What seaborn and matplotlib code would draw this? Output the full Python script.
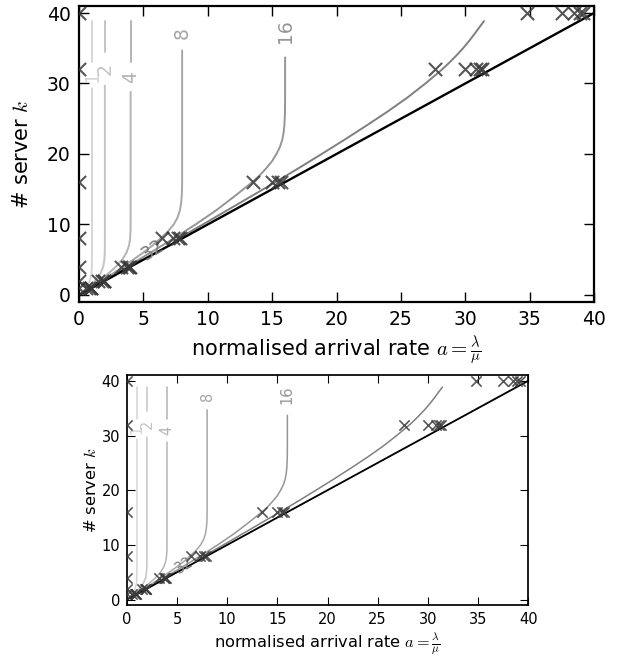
import numpy as np
import matplotlib
matplotlib.use("Agg")
import matplotlib.pyplot as plt
import seaborn as sns

# contour levels and the grey of each curve
levels = [1, 2, 4, 8, 16, 32]
greys = ['#d6d6d6', '#c4c4c4', '#b4b4b4', '#a6a6a6', '#959595', '#7f7f7f']

# curve points: normalised arrival rate a, servers k
a_1 = [1.0, 1.0, 1.0, 0.998, 0.99, 0.96, 0.83, 0.5]
k_1 = [38.85, 8, 6, 5, 4, 3, 2, 1]
a_2 = [2.0, 2.0, 1.998, 1.99, 1.96, 1.87, 1.65, 1.24, 0.67]
k_2 = [38.85, 9, 7, 6, 5, 4, 3, 2, 1]
a_4 = [4.0, 4.0, 3.998, 3.99, 3.96, 3.88, 3.68, 3.35, 2.86, 2.25, 1.56, 0.8]
k_4 = [38.85, 12, 10, 9, 8, 7, 6, 5, 4, 3, 2, 1]
a_8 = [8.0, 8.0, 7.99, 7.97, 7.92, 7.83, 7.65, 7.35, 6.9, 6.3, 5.7, 4.98, 4.22, 3.43, 2.6, 1.77, 0.89]
k_8 = [34.7, 16, 15, 14, 13, 12, 11, 10, 9, 8, 7, 6, 5, 4, 3, 2, 1]
a_16 = [16.0, 16.0, 15.99, 15.97, 15.94, 15.88, 15.78, 15.6, 15.33, 15.0, 14.55, 14.05,
        13.45, 12.08, 10.65, 9.05, 7.35, 5.55, 3.72, 1.88, 0.94]
k_16 = [33.7, 28, 26, 25, 24, 23, 22, 21, 20, 19, 18, 17,
        16, 14, 12, 10, 8, 6, 4, 2, 1]
a_32 = [31.45, 31.1, 30.7, 30.28, 29.82, 29.32, 28.78, 28.2, 26.9, 25.5, 23.95, 22.3,
        20.6, 18.85, 17.07, 15.25, 13.38, 11.5, 9.62, 7.72, 5.8, 3.87, 1.94, 0.97]
k_32 = [38.85, 38, 37, 36, 35, 34, 33, 32, 30, 28, 26, 24,
        22, 20, 18, 16, 14, 12, 10, 8, 6, 4, 2, 1]

# cross markers
mark_a = [0, 0.55, 0.8, 0.9, 0.95,
          0, 1.5, 1.8, 1.9, 1.95,
          0, 3.25, 3.7, 3.85, 3.92,
          0, 6.4, 7.3, 7.7, 7.85,
          0, 13.5, 14.95, 15.45, 15.65,
          0, 27.65, 30.0, 30.8, 31.15, 31.3,
          0, 34.8, 37.5, 38.45, 38.9, 39.15]
mark_k = [1, 1, 1, 1, 1,
          2, 2, 2, 2, 2,
          4, 4, 4, 4, 4,
          8, 8, 8, 8, 8,
          16, 16, 16, 16, 16,
          32, 32, 32, 32, 32, 32,
          40, 40, 40, 40, 40, 40]

curves = [(a_1, k_1), (a_2, k_2), (a_4, k_4), (a_8, k_8), (a_16, k_16), (a_32, k_32)]

# where the inline labels sit (a, k, rotation) and the gap they cut in the curve
label_pos = [(1.0, 31.1, 90), (2.0, 32.1, 90), (4.0, 30.9, 90),
             (8.0, 37.1, 90), (16.0, 37.4, 90), (5.75, 6.3, 32)]
gaps = [(29.3, 33.0), (29.7, 34.5), (28.8, 33.0), None, None, (5.0, 7.6)]

sns.set_style("ticks")
plt.rcParams['mathtext.fontset'] = 'cm'
plt.rcParams['font.family'] = ['DejaVu Sans']
plt.rcParams['text.color'] = 'k'
plt.rcParams['axes.labelcolor'] = 'k'
plt.rcParams['xtick.color'] = 'k'
plt.rcParams['ytick.color'] = 'k'


def segments(a, k, gap):
    a = np.asarray(a, float)
    k = np.asarray(k, float)
    if gap is None:
        return [(a, k)]
    lo, hi = gap
    # k is decreasing, np.interp wants increasing
    a_hi = np.interp(hi, k[::-1], a[::-1])
    a_lo = np.interp(lo, k[::-1], a[::-1])
    top = k >= hi
    bot = k <= lo
    return [(np.r_[a[top], a_hi], np.r_[k[top], hi]),
            (np.r_[a_lo, a[bot]], np.r_[lo, k[bot]])]


def draw(ax, s, ypad):
    for (a, k), c, gap in zip(curves, greys, gaps):
        for xa, yk in segments(a, k, gap):
            sns.lineplot(x=xa, y=yk, sort=False, estimator=None, color=c,
                         lw=1.4 * s, ax=ax)
    sns.lineplot(x=[0, 40], y=[0, 40], sort=False, estimator=None,
                 color='k', lw=1.7 * s, ax=ax)
    sns.scatterplot(x=mark_a, y=mark_k, marker='x', s=(9.5 * s) ** 2,
                    color='0.22', linewidth=1.5 * s, alpha=0.85, ax=ax,
                    zorder=4)
    for lev, c, (xa, yk, rot) in zip(levels, greys, label_pos):
        ax.text(xa, yk, str(lev), color=c, fontsize=13.5 * s, rotation=rot,
                ha='center', va='center', rotation_mode='anchor')
    ax.set_xlim(0, 40)
    ax.set_ylim(-1, 41)
    ax.set_xticks(range(0, 41, 5))
    ax.set_yticks(range(0, 41, 10))
    ax.tick_params(direction='in', top=True, right=True, length=7 * s,
                   width=1.0 * s, labelsize=13.5 * s, pad=6 * s)
    for sp in ax.spines.values():
        sp.set_linewidth(1.6 * s)
        sp.set_color('k')
    ax.set_xlabel(r'normalised arrival rate $a = \frac{\lambda}{\mu}$',
                  fontsize=15 * s, labelpad=4 * s)
    ax.set_ylabel(r'# server $k$', fontsize=15 * s, labelpad=ypad)


fig = plt.figure(figsize=(6.28, 6.62), dpi=100)
ax1 = fig.add_axes([0.126, 0.544, 0.820, 0.447])
ax2 = fig.add_axes([0.202, 0.086, 0.639, 0.347])
draw(ax1, 1.0, 11)
draw(ax2, 0.78, 2)

plt.savefig('out.png', dpi=100)
